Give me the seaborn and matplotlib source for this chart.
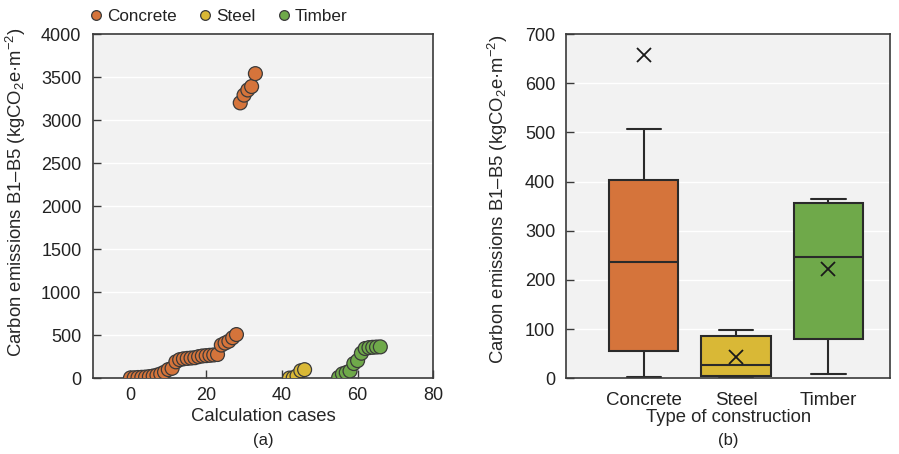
import matplotlib
matplotlib.use("Agg")
import matplotlib.pyplot as plt
import numpy as np
import pandas as pd
import seaborn as sns

# Carbon emissions B1-B5 per calculation case (kgCO2e/m2)
concrete_cases = list(range(0, 34))
concrete_values = [3, 5, 8, 10, 13, 18, 25, 35, 50, 70, 100, 115, 190, 215, 225,
                   230, 234, 238, 250, 258, 262, 266, 270, 275, 385, 408, 430,
                   470, 507, 3200, 3290, 3350, 3390, 3540]
steel_cases = [42, 43, 44, 45, 46]
steel_values = [1, 4, 27, 86, 99]
timber_cases = list(range(55, 67))
timber_values = [9, 50, 65, 84, 170, 204, 290, 345, 355, 359, 362, 364]

materials = ["Concrete", "Steel", "Timber"]
colors = {"Concrete": "#D5743B", "Steel": "#D9B836", "Timber": "#6FA94A"}

df = pd.DataFrame({
    "case": concrete_cases + steel_cases + timber_cases,
    "value": concrete_values + steel_values + timber_values,
    "material": (["Concrete"] * len(concrete_values) + ["Steel"] * len(steel_values)
                 + ["Timber"] * len(timber_values)),
})

sns.set_theme(style="whitegrid", rc={
    "axes.facecolor": "#F2F2F2",
    "axes.edgecolor": "#3A3A3A",
    "axes.linewidth": 1.2,
    "grid.color": "white",
    "grid.linewidth": 1.0,
})
plt.rcParams["font.family"] = ["Liberation Sans", "DejaVu Sans"]
plt.rcParams["mathtext.fontset"] = "custom"
plt.rcParams["mathtext.rm"] = "Liberation Sans"
plt.rcParams["mathtext.it"] = "Liberation Sans:italic"
plt.rcParams["text.color"] = "#222222"

fig = plt.figure(figsize=(8.99, 4.54), dpi=100)
ax1 = fig.add_axes([0.103, 0.167, 0.379, 0.758])
ax2 = fig.add_axes([0.630, 0.167, 0.360, 0.758])

ylabel = r"Carbon emissions B1–B5 (kgCO$_\mathregular{2}$e·m$^\mathregular{-2}$)"
fs_tick = 13
fs_label = 13.3

# (a) scatter of all calculation cases
sns.scatterplot(data=df, x="case", y="value", hue="material", hue_order=materials,
                palette=colors, s=100, edgecolor="#3A3A3A", linewidth=0.9,
                ax=ax1, zorder=3, legend=True)
ax1.set_xlim(-10, 80)
ax1.set_ylim(0, 4000)
ax1.set_xticks([0, 20, 40, 60, 80])
ax1.set_yticks(np.arange(0, 4001, 500))
ax1.tick_params(axis="both", labelsize=fs_tick, direction="in", length=6, width=1.0,
                color="#3A3A3A", labelcolor="#222222")
ax1.tick_params(axis="x", bottom=True, top=False, pad=6)
ax1.tick_params(axis="y", left=True, right=False, pad=8)
ax1.xaxis.grid(False)
ax1.set_xlabel("Calculation cases", fontsize=fs_label, labelpad=3)
ax1.set_ylabel(ylabel, fontsize=fs_label, labelpad=6)
ax1.yaxis.set_label_coords(-0.19, 0.54)
for sp in ax1.spines.values():
    sp.set_visible(True)
ax1.text(0.5, -0.158, "(a)", transform=ax1.transAxes, ha="center", va="top",
         fontsize=12)

handles, labels = ax1.get_legend_handles_labels()
for h in handles:
    h.set_markersize(7)
ax1.legend(handles, labels, ncol=3, frameon=False, fontsize=12.3,
           loc="lower left", bbox_to_anchor=(-0.035, 1.01), handletextpad=0.15,
           columnspacing=1.15, borderaxespad=0, handlelength=1.0)

# (b) box plot by type of construction
sns.boxplot(data=df, x="material", y="value", hue="material", order=materials,
            hue_order=materials, palette=colors, width=0.75, showfliers=False,
            showmeans=True, whis=1.5, linecolor="#2A2A2A", linewidth=1.5,
            meanprops=dict(marker="x", markeredgecolor="#1A1A1A",
                           markerfacecolor="#1A1A1A", markersize=10,
                           markeredgewidth=1.3),
            ax=ax2, legend=False, saturation=1)
ax2.set_xlim(-0.84, 2.67)
ax2.set_ylim(0, 700)
ax2.set_yticks(np.arange(0, 701, 100))
ax2.tick_params(axis="y", labelsize=fs_tick, left=True, direction="in", length=6,
                width=1.0, color="#3A3A3A", labelcolor="#222222", pad=8)
ax2.tick_params(axis="x", labelsize=13.5, bottom=False, pad=4, labelcolor="#222222")
ax2.xaxis.grid(False)
ax2.set_xlabel("Type of construction", fontsize=fs_label, labelpad=0)
ax2.set_ylabel(ylabel, fontsize=fs_label, labelpad=6)
ax2.yaxis.set_label_coords(-0.175, 0.52)
for sp in ax2.spines.values():
    sp.set_visible(True)
ax2.text(0.5, -0.158, "(b)", transform=ax2.transAxes, ha="center", va="top",
         fontsize=12)

fig.savefig("out.png", dpi=100, facecolor="white")
